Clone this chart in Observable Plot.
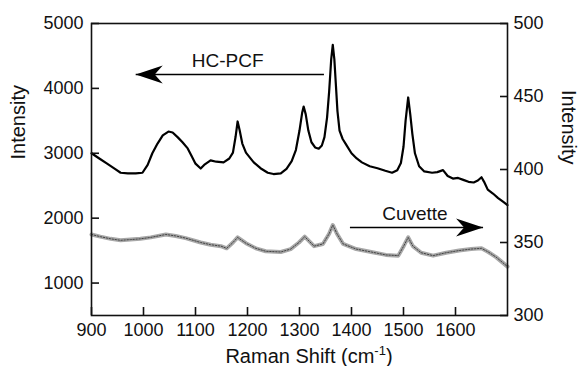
<!DOCTYPE html>
<html><head><meta charset="utf-8">
<script src="https://cdn.jsdelivr.net/npm/d3@7"></script>
<script src="https://cdn.jsdelivr.net/npm/@observablehq/plot@0.6"></script>
<style>
body{margin:0;background:#fff;}
svg{font-family:"Liberation Sans",Arial,Helvetica,sans-serif;}
</style>
</head><body><div id="chart"></div>
<script>
// HC-PCF spectrum (left axis)
const hcShift = [900,915,930,945,956,970,985,998,1008,1017,1027,1037,1048,1056,1066,1075,1085,1093,1100,1110,1118,1129,1140,1154,1165,1172,1177,1181,1185,1190,1197,1205,1212,1225,1239,1250,1264,1275,1285,1293,1300,1305,1308,1312,1317,1323,1330,1337,1343,1348,1353,1357,1361,1364,1367,1370,1373,1377,1383,1390,1400,1410,1420,1435,1450,1465,1478,1488,1495,1500,1504,1509,1513,1517,1522,1530,1540,1555,1565,1576,1585,1595,1605,1615,1625,1635,1643,1650,1655,1662,1672,1682,1692,1700];
const hcIntensity = [3000,2920,2840,2760,2700,2690,2690,2700,2820,3000,3150,3275,3335,3320,3245,3170,3075,2950,2840,2765,2830,2890,2870,2860,2920,3010,3250,3490,3350,3150,3010,2930,2860,2770,2700,2680,2690,2760,2880,3050,3350,3620,3720,3600,3350,3170,3090,3070,3120,3250,3550,3950,4450,4670,4450,4050,3650,3350,3220,3130,3000,2920,2860,2800,2770,2730,2700,2740,2850,3100,3500,3860,3600,3300,3000,2800,2720,2700,2710,2740,2650,2610,2620,2590,2560,2550,2580,2630,2560,2440,2380,2310,2250,2200];

// Cuvette spectrum (right axis)
const cuShift = [900,917,937,956,975,994,1014,1043,1062,1081,1110,1129,1149,1160,1172,1181,1197,1216,1235,1264,1283,1299,1310,1328,1345,1357,1364,1372,1384,1409,1438,1466,1490,1501,1509,1518,1534,1557,1582,1607,1630,1650,1663,1678,1700];
const cuIntensity = [355.5,354,352.5,351.5,352,352.5,353.5,355.5,354.5,353,350,348.5,347.5,346,350,353.5,349.5,346,344,343.5,345.5,350,354,347.5,349,356,362,356,349,345.5,343.5,341.5,341,348,353.5,347.5,343,341,343,344.5,345.5,346,343.5,340,333.5];

const xTicks = [900,1000,1100,1200,1300,1400,1500,1600];
const leftTicks = [1000,2000,3000,4000,5000];
const rightTicks = [300,350,400,450,500];
const xDomain = [900,1700];
const leftDomain = [500,5000];
const rightDomain = [300,500];

// annotations
const arrowLabels = ["HC-PCF","Cuvette"];
const arrowTextX = [1162,1522];
const arrowTextY = [4430,2072];
const arrowFromX = [1347,1397];
const arrowToX = [985,1653];
const arrowY = [4214,1856];
const arrowRotate = [180,0];

const toLeft = v => leftDomain[0] + (v - rightDomain[0]) / (rightDomain[1] - rightDomain[0]) * (leftDomain[1] - leftDomain[0]);
const fromLeft = v => rightDomain[0] + (v - leftDomain[0]) / (leftDomain[1] - leftDomain[0]) * (rightDomain[1] - rightDomain[0]);

const hc = hcShift.map((x,i) => ({x, y: hcIntensity[i]}));
const cu = cuShift.map((x,i) => ({x, y: toLeft(cuIntensity[i])}));
const ann = arrowLabels.map((t,i) => ({t, tx: arrowTextX[i], ty: arrowTextY[i], x1: arrowFromX[i], x2: arrowToX[i], y: arrowY[i], r: arrowRotate[i]}));

const arrowHead = {draw(ctx){ ctx.moveTo(0,0); ctx.lineTo(-27,-9); ctx.lineTo(-19,0); ctx.lineTo(-27,9); ctx.closePath(); }};
const plain = d => String(d);

const plot = Plot.plot({
  width: 579, height: 366,
  marginLeft: 91, marginRight: 72, marginTop: 23, marginBottom: 51,
  style: {fontFamily: '"Liberation Sans",Arial,sans-serif', fontSize: "18px", color: "#111", background: "#fff"},
  x: {domain: xDomain},
  y: {domain: leftDomain},
  marks: [
    Plot.line(cu, {x: "x", y: "y", stroke: "#a8a8a8", strokeWidth: 4}),
    Plot.line(cu, {x: "x", y: "y", stroke: "#444", strokeWidth: 1, strokeDasharray: "1.5 1.5"}),
    Plot.line(hc, {x: "x", y: "y", stroke: "#000", strokeWidth: 2.2}),
    Plot.frame({stroke: "#111", strokeWidth: 1.6}),
    Plot.axisX(xTicks, {anchor: "bottom", tickSize: -8, tickPadding: 16, label: null, strokeWidth: 1.6, tickFormat: plain}),
    Plot.axisY(leftTicks, {anchor: "left", tickSize: -8, tickPadding: 16, label: null, strokeWidth: 1.6, tickFormat: plain}),
    Plot.axisY(rightTicks.map(toLeft), {anchor: "right", tickSize: -8, tickPadding: 14, label: null, strokeWidth: 1.6, tickFormat: d => String(Math.round(fromLeft(d)))}),
    Plot.text(["Intensity"], {frameAnchor: "left", dx: -73, dy: -10, rotate: -90, fontSize: 20, fill: "#111"}),
    Plot.text(["Intensity"], {frameAnchor: "right", dx: 61, dy: -5, rotate: 90, fontSize: 20, fill: "#111"}),
    Plot.link(ann, {x1: "x1", x2: "x2", y1: "y", y2: "y", stroke: "#000", strokeWidth: 1.6}),
    Plot.dot(ann, {x: "x2", y: "y", symbol: arrowHead, rotate: "r", fill: "#000", stroke: "none"}),
    Plot.text(ann, {x: "tx", y: "ty", text: "t", fontSize: 19, fill: "#111"})
  ]
});
document.getElementById("chart").appendChild(plot);

// x-axis title with superscript
const sx = plot.scale("x");
const svg = d3.select(plot);
const xl = svg.append("text")
  .attr("x", (sx.range[0] + sx.range[1]) / 2 + 10)
  .attr("y", 363)
  .attr("text-anchor", "middle")
  .attr("font-size", 20)
  .attr("fill", "#111");
xl.append("tspan").text("Raman Shift (cm");
xl.append("tspan").attr("font-size", 13).attr("dy", -8).text("-1");
xl.append("tspan").attr("dy", 8).text(")");
</script>
</body></html>
